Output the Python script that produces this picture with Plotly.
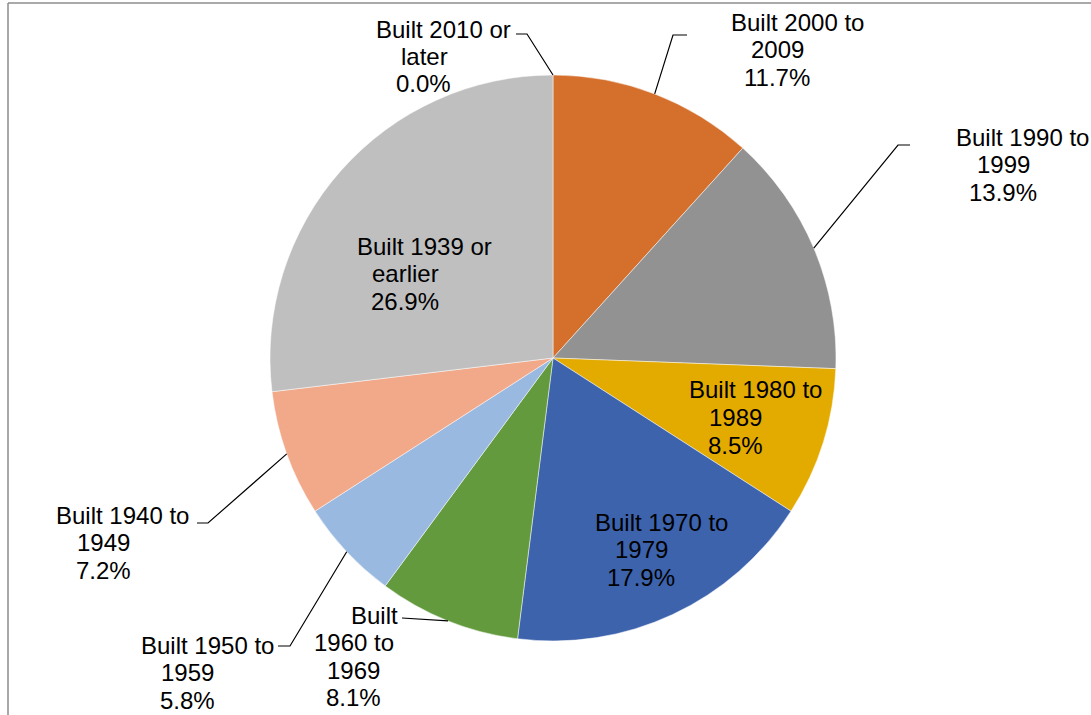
import math
import plotly.graph_objects as go

# ---------------- data ----------------
categories = ["Built 2010 or later", "Built 2000 to 2009", "Built 1990 to 1999",
              "Built 1980 to 1989", "Built 1970 to 1979", "Built 1960 to 1969",
              "Built 1950 to 1959", "Built 1940 to 1949", "Built 1939 or earlier"]
values = [0.0, 11.7, 13.9, 8.5, 17.9, 8.1, 5.8, 7.2, 26.9]
colors = ["#4472C4", "#D46F2C", "#929292", "#E3AA00", "#3D63AD",
          "#639A3D", "#99B9E0", "#F1A98A", "#BFBFBF"]
# how each category name wraps in its label
label_wrap = [["Built 2010 or", "later"], ["Built 2000 to", "2009"], ["Built 1990 to", "1999"],
              ["Built 1980 to", "1989"], ["Built 1970 to", "1979"], ["Built", "1960 to", "1969"],
              ["Built 1950 to", "1959"], ["Built 1940 to", "1949"], ["Built 1939 or", "earlier"]]

# ---------------- layout (pixels) ----------------
W, H = 1091, 715
CX, CY, R = 553, 358, 283
FONT = "Liberation Sans, Arial, sans-serif"
FS = 24

# per-line label centres (x list, first line y, line step)
label_pos = [
    ([443, 424, 423], 29, 27.3),
    ([797, 777, 777], 22, 27.5),
    ([1022, 1003, 1003], 137, 27.5),
    ([755, 735, 735], 390, 27.5),
    ([661, 641, 641], 522, 27.5),
    ([374, 354, 353, 353], 615, 27.6),
    ([207, 187, 187], 645, 27.5),
    ([122, 103, 103], 515, 27.5),
    ([424, 405, 405], 246, 27.5),
]
# leader lines: (text end x, elbow x, y) or None
leaders = [
    (516, 527, 34),
    (687, 673, 35),
    (910, 898, 145),
    None,
    None,
    (402, 402, 618),
    (278, 290, 646),
    (197, 208, 523),
    None,
]


def px(x):
    return x / W


def py(y):
    return 1 - y / H


fig = go.Figure(go.Pie(
    values=values, labels=categories, sort=False, direction="clockwise", rotation=0,
    marker=dict(colors=colors, line=dict(color="rgba(255,255,255,0.7)", width=0.7)),
    textinfo="none", showlegend=False,
    domain=dict(x=[px(CX - R), px(CX + R)], y=[py(CY + R), py(CY - R)]),
))

annotations = []
shapes = []
total = sum(values)
cum = 0.0
for i, (cat, v) in enumerate(zip(categories, values)):
    mid = (cum + v / 2) / total * 2 * math.pi
    cum += v
    lines = label_wrap[i] + [f"{v:.1f}%"]
    xs, y0, step = label_pos[i]
    for j, t in enumerate(lines):
        annotations.append(dict(x=px(xs[j]), y=py(y0 + j * step), xref="paper", yref="paper",
                                text=t, showarrow=False, xanchor="center", yanchor="middle",
                                font=dict(family=FONT, size=FS, color="#000000")))
    if leaders[i] is not None:
        tx, ex, ly = leaders[i]
        edx = CX + R * math.sin(mid)
        edy = CY - R * math.cos(mid)
        path = f"M {px(tx)} {py(ly)} L {px(ex)} {py(ly)} L {px(edx)} {py(edy)}"
        shapes.append(dict(type="path", path=path, xref="paper", yref="paper",
                           line=dict(color="#000000", width=1.2)))

# chart frame
shapes.append(dict(type="line", xref="paper", yref="paper", x0=px(8), x1=px(1100), y0=py(3), y1=py(3),
                   line=dict(color="#8C8C8C", width=1.5)))
shapes.append(dict(type="line", xref="paper", yref="paper", x0=px(8), x1=px(8), y0=py(3), y1=py(720),
                   line=dict(color="#8C8C8C", width=1.5)))

fig.update_layout(
    width=W, height=H, margin=dict(l=0, r=0, t=0, b=0),
    paper_bgcolor="white", plot_bgcolor="white",
    annotations=annotations, shapes=shapes,
)
fig.write_html("out.html", config={"displayModeBar": False},
               post_script="document.body.style.margin='0';")
